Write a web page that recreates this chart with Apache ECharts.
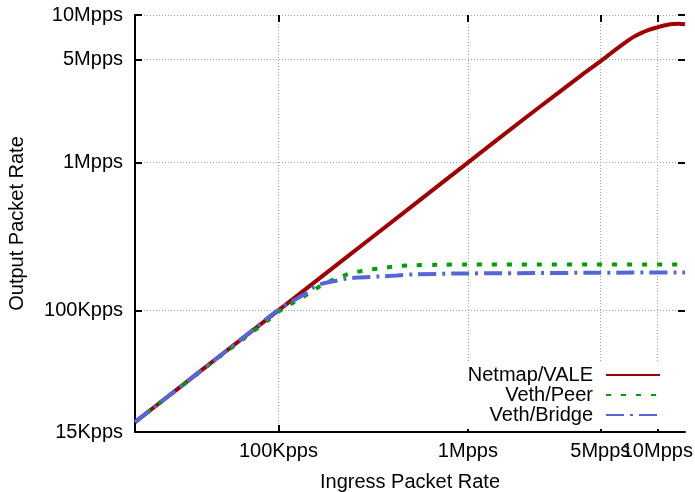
<!DOCTYPE html>
<html>
<head>
<meta charset="utf-8">
<script src="https://cdn.jsdelivr.net/npm/echarts@6/dist/echarts.min.js"></script>
<style>
  html, body { margin: 0; padding: 0; background: #fff; }
  #chart { width: 695px; height: 492px; }
</style>
</head>
<body>
<div id="chart"></div>
<script>
// ingress rate (pps) -> output rate (pps)
var valeIn = [17500, 30000, 50000, 100000, 200000, 500000, 1000000, 2000000, 3000000, 4000000, 5000000, 6000000, 7000000, 7500000, 8000000, 9000000, 10000000, 11000000, 12000000, 13000000, 14000000];
var valeOut = [17500, 30000, 50000, 100000, 200000, 500000, 1000000, 2000000, 2970000, 3930000, 4850000, 5810000, 6710000, 7110000, 7420000, 7920000, 8250000, 8520000, 8680000, 8720000, 8650000];

var peerIn = [17500, 50000, 90000, 106000, 126000, 147000, 172000, 204000, 239000, 287000, 344000, 413000, 495000, 700000, 1000000, 14000000];
var peerOut = [17500, 49500, 87500, 103000, 116800, 132000, 150000, 164500, 177800, 186400, 192300, 198400, 201500, 203500, 204700, 204700];

var bridgeIn = [17500, 50000, 94000, 106000, 126000, 142000, 153000, 172500, 194600, 230800, 270200, 344400, 422900, 513800, 1000000, 14000000];
var bridgeOut = [17500, 50000, 95000, 106000, 120500, 132300, 142900, 152100, 157000, 164500, 167100, 169700, 172300, 175000, 177800, 180600];

var xTicks = [100000, 1000000, 5000000, 10000000];
var xTickLabels = ['100Kpps', '1Mpps', '5Mpps', '10Mpps'];
var yTicks = [15000, 100000, 1000000, 5000000, 10000000];
var yTickLabels = ['15Kpps', '100Kpps', '1Mpps', '5Mpps', '10Mpps'];

function pairs(xs, ys) {
  var out = [];
  for (var i = 0; i < xs.length; i++) out.push([xs[i], ys[i]]);
  return out;
}
function labelFor(ticks, labels) {
  return function (v) {
    for (var i = 0; i < ticks.length; i++) {
      if (Math.abs(Math.log10(v / ticks[i])) < 0.005) return labels[i];
    }
    return '';
  };
}

var font = 'Liberation Sans, Arial, sans-serif';
var gridLine = { show: true, lineStyle: { color: '#a0a0a0', width: 1, type: [1, 2] } };
var tick = { show: true, inside: true, length: 7, lineStyle: { color: '#000', width: 2 } };
var labelText = { fontFamily: font, fontSize: 20, color: '#000' };

// 5Mpps and 10Mpps labels touch each other, so the 5M one sits on its own axis
var xMain = [xTicks[0], xTicks[1], xTicks[3]];
var xSide = [xTicks[2]];

var chart = echarts.init(document.getElementById('chart'));
var option = {
  animation: false,
  backgroundColor: '#fff',
  textStyle: { fontFamily: font },
  grid: { left: 135, right: 10, top: 15, bottom: 60, containLabel: false, outerBoundsMode: 'none' },
  legend: {
    orient: 'vertical',
    right: 29,
    top: 363,
    align: 'right',
    itemWidth: 54,
    itemHeight: 4,
    itemGap: 0,
    padding: [2, 5, 4, 60],
    backgroundColor: '#fff',
    itemStyle: { opacity: 0 },
    textStyle: { fontFamily: font, fontSize: 20, color: '#000', padding: [0, 8, 0, 0] },
    data: ['Netmap/VALE', 'Veth/Peer', 'Veth/Bridge']
  },
  xAxis: [
    {
      type: 'log', logBase: 10, position: 'bottom', min: 17500, max: 14000000,
      name: 'Ingress Packet Rate', nameLocation: 'middle', nameGap: 40,
      nameTextStyle: labelText,
      axisLine: { show: true, lineStyle: { color: '#000', width: 2 } },
      axisTick: Object.assign({ customValues: xTicks }, tick),
      minorTick: { show: false },
      axisLabel: Object.assign({ customValues: xMain, formatter: labelFor(xTicks, xTickLabels),
        hideOverlap: false, margin: 9 }, labelText),
      splitLine: gridLine
    },
    {
      type: 'log', logBase: 10, position: 'top', min: 17500, max: 14000000,
      axisLine: { show: false },
      axisTick: Object.assign({ customValues: xTicks }, tick),
      axisLabel: { show: false },
      splitLine: { show: false }
    },
    {
      type: 'log', logBase: 10, position: 'bottom', min: 17500, max: 14000000,
      axisLine: { show: false },
      axisTick: { show: false },
      axisLabel: Object.assign({ customValues: xSide, formatter: labelFor(xTicks, xTickLabels),
        hideOverlap: false, margin: 9 }, labelText),
      splitLine: { show: false }
    }
  ],
  yAxis: [
    {
      type: 'log', logBase: 10, position: 'left', min: 15000, max: 10000000,
      name: 'Output Packet Rate', nameLocation: 'middle', nameGap: 108,
      nameTextStyle: labelText,
      axisLine: { show: true, lineStyle: { color: '#000', width: 2 } },
      axisTick: Object.assign({ customValues: yTicks }, tick),
      axisLabel: Object.assign({ customValues: yTicks, formatter: labelFor(yTicks, yTickLabels),
        margin: 12 }, labelText),
      splitLine: gridLine
    },
    {
      type: 'log', logBase: 10, position: 'right', min: 15000, max: 10000000,
      axisLine: { show: false },
      axisTick: Object.assign({ customValues: yTicks }, tick),
      axisLabel: { show: false },
      splitLine: { show: false }
    }
  ],
  series: [
    {
      name: 'Netmap/VALE', type: 'line', smooth: 0.3, symbol: 'none',
      data: pairs(valeIn, valeOut),
      itemStyle: { color: '#a00000' },
      lineStyle: { color: '#a00000', width: 4 }
    },
    {
      name: 'Veth/Peer', type: 'line', smooth: 0.3, symbol: 'none',
      data: pairs(peerIn, peerOut),
      itemStyle: { color: '#00a000' },
      lineStyle: { color: '#00a000', width: 4, type: [5, 10] }
    },
    {
      name: 'Veth/Bridge', type: 'line', smooth: 0.3, symbol: 'none',
      data: pairs(bridgeIn, bridgeOut),
      itemStyle: { color: '#5566d8' },
      lineStyle: { color: '#5566d8', width: 4, type: [18, 6, 3, 6] }
    }
  ]
};
chart.setOption(option);
</script>
</body>
</html>
